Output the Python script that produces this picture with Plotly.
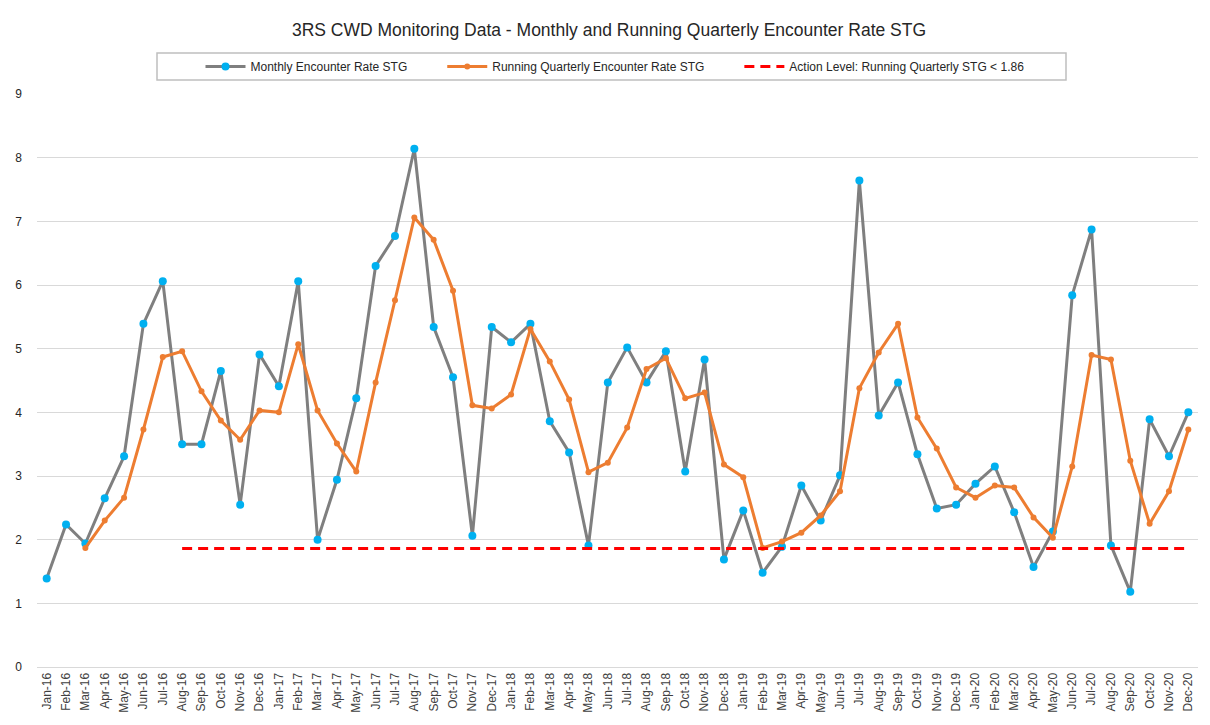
import plotly.graph_objects as go

# ── data ──────────────────────────────────────────────────────
months = [f"{m}-{y}" for y in ("16", "17", "18", "19", "20")
          for m in ("Jan", "Feb", "Mar", "Apr", "May", "Jun",
                    "Jul", "Aug", "Sep", "Oct", "Nov", "Dec")]

monthly = [
    1.39, 2.24, 1.94, 2.65, 3.31, 5.39, 6.06, 3.50, 3.50, 4.65, 2.55, 4.91,
    4.41, 6.06, 2.00, 2.94, 4.22, 6.30, 6.77, 8.14, 5.34, 4.55, 2.06, 5.34,
    5.10, 5.39, 3.86, 3.37, 1.91, 4.47, 5.02, 4.47, 4.96, 3.07, 4.83, 1.69,
    2.46, 1.48, 1.89, 2.85, 2.30, 3.01, 7.64, 3.95, 4.47, 3.34, 2.49, 2.55,
    2.88, 3.15, 2.43, 1.57, 2.13, 5.84, 6.87, 1.91, 1.18, 3.89, 3.31, 4.00,
]

running_q = [
    None, None, 1.87, 2.30, 2.66, 3.73, 4.87, 4.96, 4.33, 3.87, 3.57, 4.03,
    4.00, 5.07, 4.03, 3.51, 3.07, 4.47, 5.76, 7.06, 6.71, 5.91, 4.11, 4.06,
    4.28, 5.31, 4.80, 4.20, 3.06, 3.21, 3.76, 4.68, 4.85, 4.22, 4.31, 3.18,
    2.98, 1.87, 1.97, 2.11, 2.38, 2.76, 4.38, 4.94, 5.39, 3.92, 3.43, 2.82,
    2.66, 2.85, 2.82, 2.35, 2.03, 3.15, 4.90, 4.83, 3.24, 2.25, 2.76, 3.73,
]

action_level = 1.86
action_start = "Aug-16"
action_x = months[months.index(action_start):]
action_y = [action_level] * len(action_x)

# ── styling ───────────────────────────────────────────────────
_FONT = "Liberation Sans, Arial, sans-serif"
_GREY = "#7f7f7f"
_BLUE = "#00b0f0"
_ORANGE = "#ed7d31"
_RED = "#ff0000"
_GRID = "#d9d9d9"
_TEXT = "#404040"
_PAD = "\u00a0" * 9  # extra room between legend entries

# page body has an 8px margin, so the figure is a bit smaller than the window
W, H = 1202, 717
ML, MR, MT, MB = 29, 12, 86, 58
PW, PH = W - ML - MR, H - MT - MB


fig = go.Figure()
fig.add_trace(go.Scatter(
    x=months, y=monthly, mode="lines+markers",
    name="Monthly Encounter Rate STG" + _PAD,
    line=dict(color=_GREY, width=3),
    marker=dict(color=_BLUE, size=8),
))
fig.add_trace(go.Scatter(
    x=months, y=running_q, mode="lines+markers",
    name="Running Quarterly Encounter Rate STG" + _PAD,
    line=dict(color=_ORANGE, width=3),
    marker=dict(color=_ORANGE, size=6),
))
fig.add_trace(go.Scatter(
    x=action_x, y=action_y, mode="lines",
    name="Action Level: Running Quarterly STG < 1.86",
    line=dict(color=_RED, width=3, dash="10px,6px"),
))

# legend frame drawn as a shape so it can be wider than the entries
fig.add_shape(type="rect", xref="paper", yref="paper",
              x0=(149 - ML) / PW, x1=(1058 - ML) / PW,
              y0=1 + 14 / PH, y1=1 + 41 / PH,
              line=dict(color="#bfbfbf", width=1.5), fillcolor="rgba(0,0,0,0)")

fig.update_layout(
    width=W, height=H,
    paper_bgcolor="white", plot_bgcolor="white",
    font=dict(family=_FONT, color=_TEXT, size=12),
    margin=dict(l=ML, r=MR, t=MT, b=MB, autoexpand=False),
    title=dict(text="3RS CWD Monitoring Data - Monthly and Running Quarterly Encounter Rate STG",
               font=dict(size=17.5, color="#262626"), x=0.5, xanchor="center",
               y=1 - 22 / H, yanchor="middle"),
    legend=dict(orientation="h", x=(607 - ML) / PW, xanchor="center",
                y=1 + 27.5 / PH, yanchor="middle",
                borderwidth=0, bgcolor="rgba(0,0,0,0)",
                font=dict(size=12, color="#262626"), itemwidth=40),
    xaxis=dict(type="category", range=[-0.5, len(months) - 0.5],
               tickangle=-90, showgrid=False, ticks="",
               showline=True, linecolor=_GRID, linewidth=1,
               tickfont=dict(size=12, color=_TEXT)),
    yaxis=dict(range=[0, 9], dtick=1, gridcolor=_GRID, gridwidth=1,
               zeroline=False, ticks="", ticklabelstandoff=14,
               tickfont=dict(size=12, color="#262626")),
)

fig.write_html("out.html")
